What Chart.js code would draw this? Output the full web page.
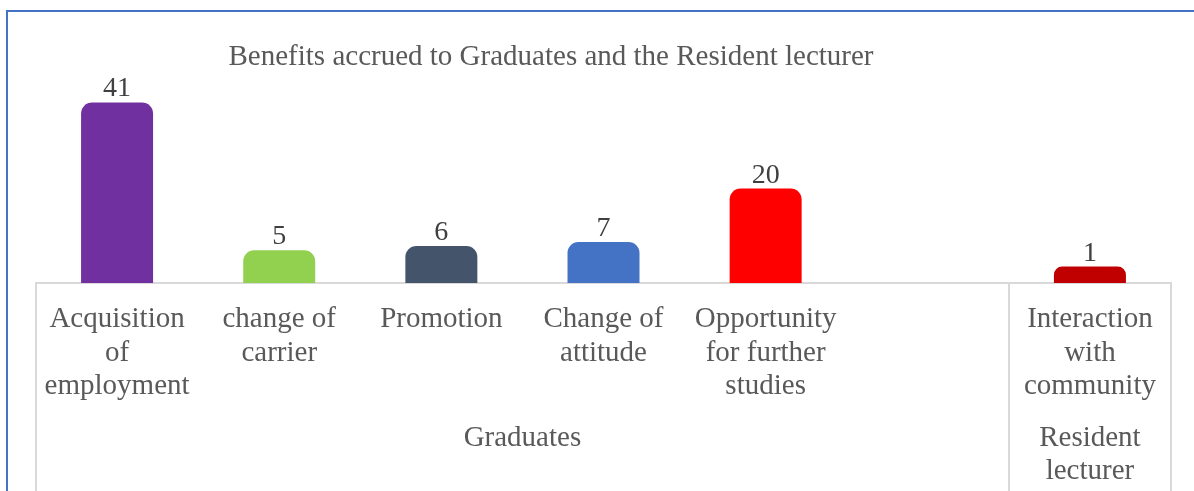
<!DOCTYPE html>
<html>
<head>
<meta charset="utf-8">
<script src="https://cdn.jsdelivr.net/npm/chart.js@4.4.0/dist/chart.umd.min.js"></script>
<style>
  html, body { margin: 0; padding: 0; background: #fff; }
  #wrap { position: relative; width: 1194px; height: 491px; }
</style>
</head>
<body>
<div id="wrap"><canvas id="c" width="1194" height="491"></canvas></div>
<script>
const titleText = 'Benefits accrued to Graduates and the Resident lecturer';
const categories = [
  ['Acquisition', 'of', 'employment'],
  ['change of', 'carrier'],
  ['Promotion'],
  ['Change of', 'attitude'],
  ['Opportunity', 'for further', 'studies'],
  [''],
  ['Interaction', 'with', 'community']
];
const values = [41, 5, 6, 7, 20, null, 1];
const barColors = ['#7030A0', '#92D050', '#44546A', '#4472C4', '#FF0000', '#FFFFFF', '#C00000'];
const groupLabels = [['Graduates'], ['Resident', 'lecturer']];
const groupStarts = [0, 6];
const groupEnds = [5, 6];

const FONT = '"Liberation Serif", "Times New Roman", serif';

const decor = {
  id: 'decor',
  beforeDraw(chart) {
    const ctx = chart.ctx;
    ctx.save();
    ctx.fillStyle = '#fff';
    ctx.fillRect(0, 0, chart.width, chart.height);
    ctx.strokeStyle = '#4472C4';
    ctx.lineWidth = 2;
    ctx.beginPath();
    ctx.moveTo(7, 500);
    ctx.lineTo(7, 11);
    ctx.lineTo(1200, 11);
    ctx.stroke();
    ctx.restore();
  },
  afterDraw(chart) {
    const ctx = chart.ctx;
    const xs = chart.scales.x;
    const area = chart.chartArea;
    const slot = (xs.right - xs.left) / categories.length;
    ctx.save();
    ctx.fillStyle = '#595959';
    ctx.font = '29px ' + FONT;
    ctx.textAlign = 'center';
    ctx.textBaseline = 'middle';
    ctx.fillText(titleText, 551, 57);
    ctx.strokeStyle = '#D9D9D9';
    ctx.lineWidth = 2;
    const bounds = new Set();
    groupStarts.forEach((s, i) => {
      bounds.add(xs.getPixelForValue(s) - slot / 2);
      bounds.add(xs.getPixelForValue(groupEnds[i]) + slot / 2);
    });
    bounds.forEach(x => {
      ctx.beginPath();
      ctx.moveTo(Math.round(x), area.bottom);
      ctx.lineTo(Math.round(x), chart.height);
      ctx.stroke();
    });
    ctx.fillStyle = '#595959';
    ctx.font = '29px ' + FONT;
    groupLabels.forEach((lines, i) => {
      const cx = (xs.getPixelForValue(groupStarts[i]) + xs.getPixelForValue(groupEnds[i])) / 2;
      lines.forEach((t, j) => ctx.fillText(t, cx, area.bottom + 155 + j * 33.5));
    });
    ctx.fillStyle = '#404040';
    ctx.font = '28px ' + FONT;
    ctx.textBaseline = 'alphabetic';
    const meta = chart.getDatasetMeta(0);
    meta.data.forEach((bar, i) => {
      if (values[i] == null) return;
      ctx.fillText(String(values[i]), bar.x, bar.y - 6);
    });
    ctx.restore();
  }
};

new Chart(document.getElementById('c'), {
  type: 'bar',
  data: {
    labels: categories,
    datasets: [{
      data: values,
      backgroundColor: barColors,
      base: -3,
      borderRadius: { topLeft: 11, topRight: 11 },
      borderSkipped: 'start',
      categoryPercentage: 1,
      barPercentage: 0.444
    }]
  },
  options: {
    responsive: false,
    animation: false,
    devicePixelRatio: 1,
    layout: { padding: { left: 36, right: 23, top: 86, bottom: 0 } },
    plugins: { legend: { display: false }, tooltip: { enabled: false }, title: { display: false } },
    scales: {
      y: { display: false, min: -3, max: 45 },
      x: {
        z: 1,
        grid: { display: false, drawTicks: false },
        border: { display: true, color: '#D9D9D9', width: 2 },
        afterFit(s) { s.height = 208; },
        ticks: {
          autoSkip: false, maxRotation: 0, minRotation: 0,
          padding: 20,
          color: '#595959',
          font: { family: FONT, size: 29, lineHeight: 1.155 }
        }
      }
    }
  },
  plugins: [decor]
});
</script>
</body>
</html>
